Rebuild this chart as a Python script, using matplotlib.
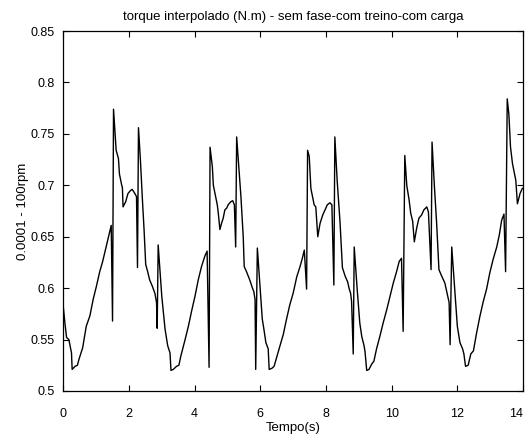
import numpy as np
import matplotlib.pyplot as plt

plt.rcParams['font.family'] = ['Liberation Sans', 'DejaVu Sans']

# torque samples read along the run (time in s, value in the axis units)
tempo = [
    0.00, 0.05, 0.10, 0.17, 0.25, 0.27, 0.36, 0.43, 0.48, 0.59, 0.70, 0.81,
    0.91, 1.01, 1.11, 1.20, 1.32, 1.40, 1.46, 1.50, 1.53, 1.61, 1.68, 1.71,
    1.78, 1.80, 1.82, 1.90, 1.97, 2.05, 2.10, 2.18, 2.23, 2.26, 2.29, 2.35,
    2.41, 2.46, 2.51, 2.57, 2.63, 2.71, 2.79, 2.84, 2.86, 2.89,
    3.00, 3.10, 3.18, 3.25, 3.28, 3.35, 3.45, 3.52, 3.58, 3.71, 3.81, 3.91,
    4.01, 4.11, 4.21, 4.31, 4.38, 4.44, 4.47, 4.54, 4.57, 4.64, 4.69, 4.72,
    4.77, 4.82, 4.87, 4.92, 4.98, 5.02, 5.10, 5.16, 5.21, 5.25, 5.28, 5.35,
    5.41, 5.48, 5.51, 5.58, 5.69, 5.76, 5.80, 5.84, 5.86, 5.91,
    5.99, 6.06, 6.11, 6.17, 6.24, 6.27, 6.35, 6.42, 6.50, 6.60, 6.70, 6.80,
    6.90, 7.00, 7.11, 7.21, 7.28, 7.34, 7.41, 7.44, 7.49, 7.54, 7.59, 7.64,
    7.69, 7.75, 7.82, 7.90, 7.97, 8.04, 8.12, 8.18, 8.24, 8.27, 8.34, 8.43,
    8.50, 8.58, 8.66, 8.71, 8.75, 8.78, 8.83, 8.86,
    8.95, 9.03, 9.09, 9.16, 9.19, 9.24, 9.31, 9.39, 9.46, 9.54, 9.64, 9.74,
    9.85, 9.95, 10.05, 10.15, 10.23, 10.30, 10.35, 10.40, 10.46, 10.53, 10.58,
    10.64, 10.69, 10.76, 10.83, 10.91, 10.98, 11.07, 11.12, 11.20, 11.23,
    11.30, 11.37, 11.44, 11.52, 11.62, 11.69, 11.75, 11.78, 11.83,
    11.93, 12.00, 12.08, 12.16, 12.20, 12.25, 12.33, 12.41, 12.49, 12.59,
    12.69, 12.79, 12.89, 12.99, 13.09, 13.20, 13.28, 13.35, 13.42, 13.47,
    13.52, 13.57, 13.62, 13.68, 13.73, 13.78, 13.83, 13.91, 13.98,
]
torque = [
    0.582, 0.566, 0.552, 0.550, 0.537, 0.521, 0.524, 0.525, 0.531, 0.542, 0.563, 0.573,
    0.589, 0.602, 0.616, 0.626, 0.642, 0.653, 0.661, 0.568, 0.774, 0.734, 0.726, 0.711,
    0.700, 0.698, 0.679, 0.684, 0.692, 0.695, 0.696, 0.692, 0.689, 0.620, 0.756, 0.724,
    0.686, 0.657, 0.623, 0.616, 0.608, 0.602, 0.595, 0.586, 0.561, 0.642,
    0.592, 0.560, 0.544, 0.537, 0.520, 0.521, 0.524, 0.525, 0.534, 0.550, 0.563, 0.578,
    0.592, 0.608, 0.621, 0.631, 0.636, 0.523, 0.737, 0.718, 0.700, 0.689, 0.681, 0.673,
    0.657, 0.663, 0.668, 0.676, 0.678, 0.681, 0.684, 0.685, 0.681, 0.640, 0.747, 0.715,
    0.689, 0.650, 0.621, 0.616, 0.607, 0.600, 0.597, 0.589, 0.521, 0.639,
    0.602, 0.570, 0.560, 0.547, 0.541, 0.521, 0.522, 0.524, 0.533, 0.544, 0.555, 0.570,
    0.584, 0.595, 0.611, 0.621, 0.629, 0.637, 0.599, 0.734, 0.728, 0.697, 0.689, 0.681,
    0.679, 0.650, 0.663, 0.671, 0.676, 0.681, 0.683, 0.681, 0.603, 0.747, 0.705, 0.663,
    0.620, 0.612, 0.606, 0.599, 0.595, 0.587, 0.536, 0.640,
    0.599, 0.566, 0.553, 0.544, 0.538, 0.520, 0.521, 0.526, 0.529, 0.541, 0.553, 0.566,
    0.579, 0.592, 0.605, 0.616, 0.626, 0.629, 0.558, 0.729, 0.700, 0.686, 0.673,
    0.665, 0.645, 0.658, 0.668, 0.671, 0.676, 0.679, 0.674, 0.618, 0.742,
    0.700, 0.663, 0.618, 0.612, 0.605, 0.595, 0.586, 0.545, 0.640,
    0.595, 0.563, 0.547, 0.541, 0.536, 0.524, 0.525, 0.536, 0.539, 0.557,
    0.573, 0.587, 0.599, 0.615, 0.628, 0.640, 0.652, 0.666, 0.672, 0.616,
    0.784, 0.769, 0.737, 0.721, 0.713, 0.705, 0.682, 0.692, 0.697,
]

x_ticks = [0, 2, 4, 6, 8, 10, 12, 14]
y_ticks = [0.5, 0.55, 0.6, 0.65, 0.7, 0.75, 0.8, 0.85]

fig = plt.figure(figsize=(5.26, 4.41), dpi=100)
ax = fig.add_axes([0.1203, 0.1134, 0.8740, 0.8163])

ax.plot(tempo, torque, color='black', linewidth=1.0)

ax.set_xlim(0, 14)
ax.set_ylim(0.5, 0.85)
ax.set_xticks(x_ticks)
ax.set_xticklabels([str(v) for v in x_ticks])
ax.set_yticks(y_ticks)
ax.set_yticklabels([f'{v:g}' for v in y_ticks])

ax.tick_params(direction='in', length=4, width=0.8, top=True, right=True,
               labelsize=9)
ax.tick_params(axis='x', pad=12)
ax.tick_params(axis='y', pad=6)
# last label pulled inside so it stays on the canvas
ax.get_xticklabels()[-1].set_horizontalalignment('right')
for s in ax.spines.values():
    s.set_linewidth(0.9)

ax.set_title('torque interpolado (N.m) - sem fase-com treino-com carga',
             fontsize=9.5, pad=8)
ax.set_xlabel('Tempo(s)', fontsize=9.5, labelpad=2)
ax.set_ylabel('0.0001 - 100rpm', fontsize=9.5, labelpad=1)

fig.savefig('out.png', dpi=100)
